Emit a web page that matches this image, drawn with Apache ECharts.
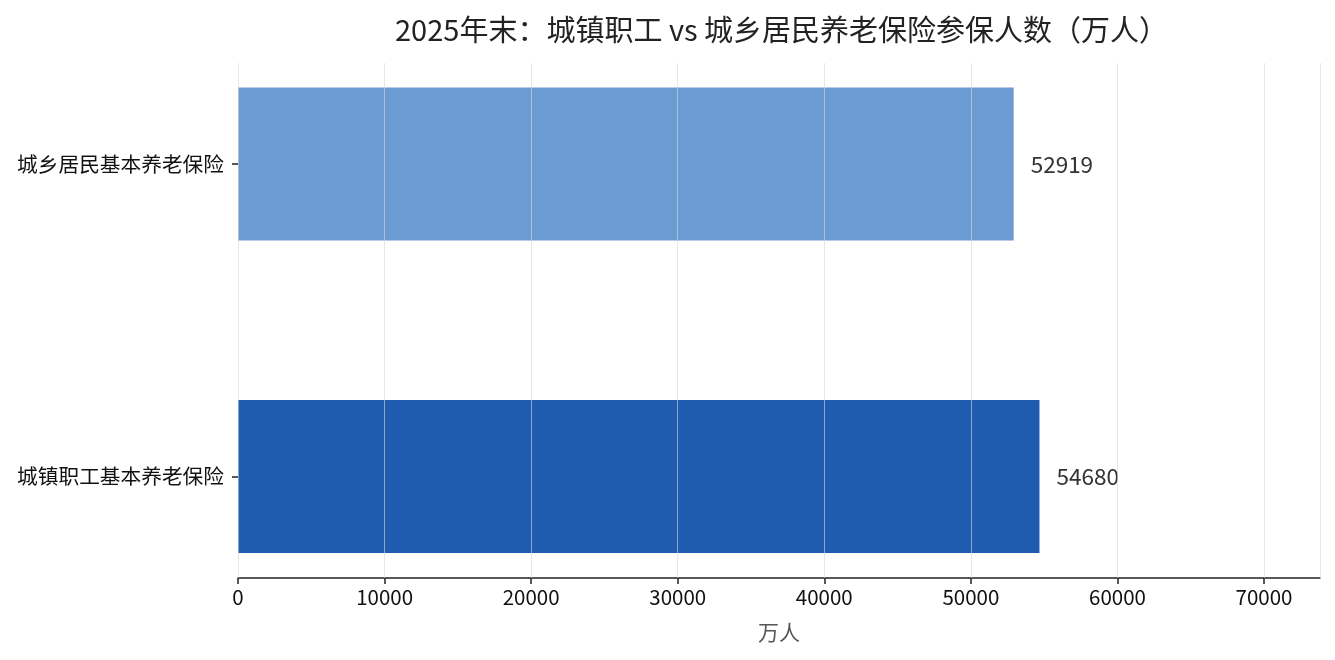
<!DOCTYPE html>
<html>
<head>
<meta charset="utf-8">
<script src="https://cdn.jsdelivr.net/npm/echarts@6/dist/echarts.min.js"></script>
<style>
  html, body { margin: 0; padding: 0; background: #fff; }
  #chart { width: 1335px; height: 660px; }
</style>
</head>
<body>
<div id="chart"></div>
<script>
// categories (bottom to top) and values, 万人
const categories = ['城镇职工基本养老保险', '城乡居民基本养老保险'];
const values = [54680, 52919];
const barColors = ['#1f5baf', '#6c9bd3'];
const xMax = 73818;
const xInterval = 10000;

const font = '"Noto Sans CJK SC", "Noto Sans", sans-serif';

const chart = echarts.init(document.getElementById('chart'));

// bars sit in a taller grid so the bands match the reference; the axis line is pulled up with offset
const options = {
  backgroundColor: '#fff',
  animation: false,
  title: {
    text: '2025年末：城镇职工 vs 城乡居民养老保险参保人数（万人）',
    left: 390,
    top: 10,
    textStyle: { fontFamily: font, fontSize: 29, fontWeight: 'normal', color: '#222' }
  },
  grid: [
    { left: 238, right: 15, top: 7.75, bottom: 27.25 },
    { left: 238, right: 15, top: 63, bottom: 82 }
  ],
  xAxis: [
    {
      gridIndex: 0,
      type: 'value',
      min: 0,
      max: xMax,
      interval: xInterval,
      offset: -54.75,
      name: '万人',
      nameLocation: 'middle',
      nameGap: 44,
      nameTextStyle: { fontFamily: font, fontSize: 21, color: '#555' },
      axisLine: { show: true, lineStyle: { color: '#222', width: 1.5 } },
      axisTick: { show: true, length: 6, lineStyle: { color: '#222', width: 1.5 } },
      axisLabel: {
        fontFamily: font, fontSize: 20.5, color: '#111', margin: 9,
        showMaxLabel: false,
        formatter: v => String(v)
      },
      splitLine: { show: false }
    },
    {
      // grid lines only, drawn over the bars
      gridIndex: 1,
      type: 'value',
      min: 0,
      max: xMax,
      interval: xInterval,
      z: 10,
      axisLine: { show: false },
      axisTick: { show: false },
      axisLabel: { show: false },
      splitLine: { show: true, lineStyle: { color: 'rgba(215,215,215,0.6)', width: 1 } }
    }
  ],
  yAxis: [
    {
      gridIndex: 0,
      type: 'category',
      data: categories,
      axisLine: { show: false },
      axisTick: { show: true, alignWithLabel: true, length: 6, lineStyle: { color: '#222', width: 1.5 } },
      axisLabel: { fontFamily: font, fontSize: 20.7, color: '#111', margin: 14 }
    },
    { gridIndex: 1, type: 'value', min: 0, max: 1, show: false }
  ],
  series: [{
    type: 'bar',
    xAxisIndex: 0,
    yAxisIndex: 0,
    barWidth: '49%',
    data: values.map((v, i) => ({ value: v, itemStyle: { color: barColors[i] } })),
    label: {
      show: true,
      position: 'right',
      distance: 17,
      fontFamily: font,
      fontSize: 22.5,
      color: '#333'
    }
  }]
};

chart.setOption(options);
</script>
</body>
</html>
